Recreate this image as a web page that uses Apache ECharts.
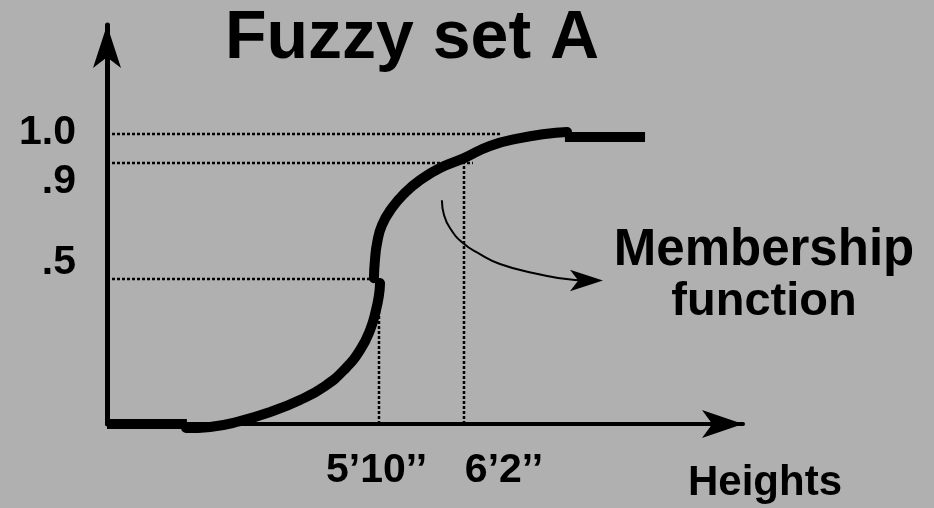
<!DOCTYPE html>
<html>
<head>
<meta charset="utf-8">
<script src="https://cdn.jsdelivr.net/npm/echarts@6/dist/echarts.min.js"></script>
<style>
  html, body { margin: 0; padding: 0; background: #b0b0b0; }
  #container { width: 934px; height: 508px; }
</style>
</head>
<body>
<div id="container"></div>
<script>
// heights in inches, membership 0..1
const tailLow = [[57.2, 0], [60.96, 0]];
const riseLow = [
  [60.92, -0.014], [62.05, -0.01], [63.46, 0.01], [64.87, 0.041], [66.28, 0.083],
  [67.46, 0.131], [68.4, 0.19], [69.11, 0.255], [69.58, 0.324], [69.86, 0.393],
  [70.0, 0.445], [70.05, 0.486],
];
const riseHigh = [
  [69.76, 0.503], [69.81, 0.566], [69.91, 0.624], [70.14, 0.686], [70.61, 0.745],
  [71.22, 0.797], [71.93, 0.841], [72.87, 0.883], [74.0, 0.917], [75.22, 0.959],
  [76.64, 0.986], [77.81, 1.0], [78.85, 1.007],
];
const tailHigh = [[78.75, 0.99], [82.52, 0.99]];

// dotted guides
const guideLevels = [1.0, 0.9, 0.5];
const guideEnds = [75.7, 74.42, 70];
const guideHeights = [70, 74];
const guideTops = [0.5, 0.9];

// axis labels
const tickHeights = [70, 74];
const tickNames = ['5’10’’', '6’2’’'];
const levelTicks = [0.5, 0.9, 1.0];
const levelNames = ['.5', '.9', '1.0'];

// the little pointer arrow to the label
const pointerPath = [
  [72.96, 0.772], [73.06, 0.721], [73.34, 0.676], [73.95, 0.624], [74.75, 0.586],
  [75.69, 0.552], [77.25, 0.521], [79.22, 0.497], [80.2, 0.495],
];
const pointerHead = [[80.54, 0.495]];

const font = '"Liberation Sans", Arial, sans-serif';
const labelStyle = { fontFamily: font, fontWeight: 'bold', color: '#000' };

let series = [];

guideLevels.forEach((lv, i) => {
  series.push({
    type: 'line',
    data: [[57.2, lv], [guideEnds[i], lv]],
    symbol: 'none',
    clip: false,
    lineStyle: { color: '#000', width: 2.5, type: [3, 2], cap: 'butt' },
    z: 1,
  });
});
guideHeights.forEach((h, i) => {
  series.push({
    type: 'line',
    data: [[h, 0], [h, guideTops[i]]],
    symbol: 'none',
    clip: false,
    lineStyle: { color: '#000', width: 2.5, type: [3, 2], cap: 'butt' },
    z: 1,
  });
});

// membership curve, in four pieces like the drawing
[tailLow, tailHigh].forEach((d) => {
  series.push({
    type: 'line',
    data: d,
    symbol: 'none',
    clip: false,
    lineStyle: { color: '#000', width: 10, cap: 'butt' },
    z: 3,
  });
});
[riseLow, riseHigh].forEach((d) => {
  series.push({
    type: 'line',
    data: d,
    symbol: 'none',
    smooth: true,
    clip: false,
    lineStyle: { color: '#000', width: 10, cap: 'round' },
    z: 3,
  });
});

series.push({
  type: 'line',
  data: pointerPath,
  symbol: 'none',
  smooth: true,
  clip: false,
  lineStyle: { color: '#000', width: 2 },
  z: 2,
});
series.push({
  type: 'scatter',
  data: pointerHead,
  symbol: 'arrow',
  symbolSize: [16, 33],
  symbolRotate: -90,
  itemStyle: { color: '#000', opacity: 1 },
  clip: false,
  z: 2,
});

const chart = echarts.init(document.getElementById('container'));

let option = {
  animation: false,
  backgroundColor: '#b0b0b0',
  title: [
    {
      text: 'Fuzzy set A',
      left: 225,
      top: 5,
      padding: 0,
      textStyle: { ...labelStyle, fontSize: 68 },
    },
    {
      text: 'Membership',
      left: 764,
      top: 225,
      padding: 0,
      textAlign: 'center',
      textStyle: { ...labelStyle, fontSize: 51 },
    },
    {
      text: 'function',
      left: 764,
      top: 279,
      padding: 0,
      textAlign: 'center',
      textStyle: { ...labelStyle, fontSize: 47 },
    },
  ],
  grid: {
    left: 107,
    right: 191,
    top: 25,
    bottom: 84,
    containLabel: false,
    outerBoundsMode: 'none',
  },
  xAxis: {
    type: 'value',
    min: 57.2,
    max: 87.13,
    name: '{h|Heights}',
    nameLocation: 'end',
    nameGap: -55,
    nameTextStyle: {
      ...labelStyle,
      fontSize: 42,
      rich: { h: { ...labelStyle, fontSize: 42, padding: [118, 0, 0, 0] } },
    },
    axisLine: {
      show: true,
      symbol: ['none', 'arrow'],
      symbolSize: [21, 41],
      lineStyle: { color: '#000', width: 4 },
    },
    axisTick: { show: false },
    splitLine: { show: false },
    axisLabel: {
      customValues: tickHeights,
      margin: 26,
      ...labelStyle,
      fontSize: 41,
      formatter: (v) => {
        const i = tickHeights.indexOf(v);
        return '{' + (i === 0 ? 'a' : 'b') + '|' + tickNames[i] + '}';
      },
      rich: {
        a: { ...labelStyle, fontSize: 41, padding: [0, 5, 0, 0] },
        b: { ...labelStyle, fontSize: 41, padding: [0, 0, 0, 80] },
      },
    },
  },
  yAxis: {
    type: 'value',
    min: 0,
    max: 1.376,
    axisLine: {
      show: true,
      symbol: ['none', 'arrow'],
      symbolSize: [21, 43],
      lineStyle: { color: '#000', width: 5 },
    },
    axisTick: { show: false },
    splitLine: { show: false },
    axisLabel: {
      customValues: levelTicks,
      margin: 31,
      ...labelStyle,
      fontSize: 41,
      formatter: (v) => {
        const i = levelTicks.indexOf(v);
        const key = ['lift', 'drop', 'top'][i];
        return '{' + key + '|' + levelNames[i] + '}';
      },
      rich: {
        lift: { ...labelStyle, fontSize: 41, padding: [0, 0, 32, 0] },
        drop: { ...labelStyle, fontSize: 41, padding: [38, 0, 0, 0] },
        top: { ...labelStyle, fontSize: 41, padding: [0, 0, 2, 0] },
      },
    },
  },
  series: series,
};

chart.setOption(option);
</script>
</body>
</html>
